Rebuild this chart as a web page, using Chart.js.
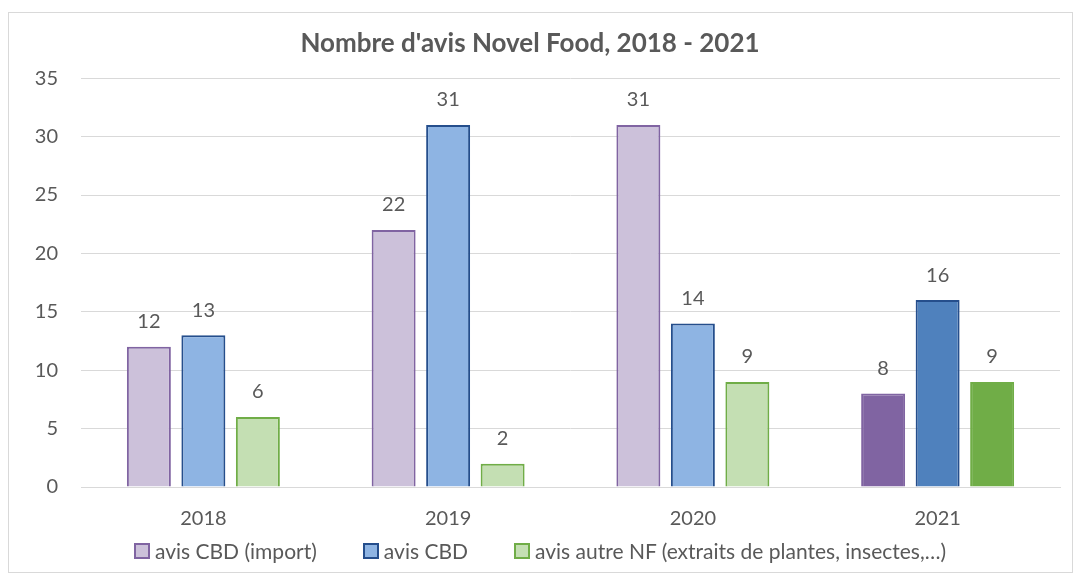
<!DOCTYPE html>
<html>
<head>
<meta charset="utf-8">
<script src="https://cdn.jsdelivr.net/npm/chart.js@4"></script>
<style>
  body { margin: 0; background: #fff; }
  #wrap { position: relative; width: 1080px; height: 580px; }
  #frame { position: absolute; left: 8px; top: 12px; width: 1063px; height: 559px; border: 1px solid #d9d9d9; pointer-events: none; }
  #legend { position: absolute; left: 0; top: 540px; width: 1080px; display: flex; justify-content: center;
            font: 21px Lato; line-height: 22px; color: #595959; }
  #legend span.item { display: flex; align-items: center; margin: 0 23px; white-space: nowrap; }
  #legend span.box { display: inline-block; width: 12px; height: 12px; border: 2px solid; margin-right: 5px; }
</style>
</head>
<body>
<div id="wrap">
  <canvas id="chart" width="1080" height="580"></canvas>
  <div id="legend"></div>
  <div id="frame"></div>
</div>
<script>
const years = ["2018", "2019", "2020", "2021"];
const cbdImport = [12, 22, 31, 8];
const cbd = [13, 31, 14, 16];
const autreNF = [6, 2, 9, 9];

const textColor = "#595959";
const font = "Lato";

// the 2021 bars use the darker shade
const shade = (light, dark) => years.map((y, i) => (i === years.length - 1 ? dark : light));

const barLabels = {
  id: "barLabels",
  afterDatasetsDraw(chart) {
    const ctx = chart.ctx;
    ctx.save();
    ctx.font = "20px " + font;
    ctx.fillStyle = textColor;
    ctx.textAlign = "center";
    ctx.textBaseline = "middle";
    chart.data.datasets.forEach((ds, di) => {
      chart.getDatasetMeta(di).data.forEach((bar, i) => {
        ctx.fillText(ds.data[i], bar.x, bar.y - 25);
      });
    });
    ctx.restore();
  },
};

// html legend built from the datasets
const htmlLegend = {
  id: "htmlLegend",
  afterUpdate(chart) {
    const target = document.getElementById("legend");
    target.innerHTML = "";
    for (const ds of chart.data.datasets) {
      target.innerHTML +=
        `<span class="item"><span class="box" style="background:${ds.backgroundColor[0]};border-color:${ds.borderColor}"></span>${ds.label}</span>`;
    }
  },
};

new Chart(document.getElementById("chart").getContext("2d"), {
  type: "bar",
  data: {
    labels: years,
    datasets: [
      {
        label: "avis CBD (import)",
        data: cbdImport,
        backgroundColor: shade("#ccc1da", "#8064a2"),
        borderColor: "#8064a2",
        borderWidth: 2,
      },
      {
        label: "avis CBD",
        data: cbd,
        backgroundColor: shade("#8eb4e3", "#4f81bd"),
        borderColor: "#254e8c",
        borderWidth: 2,
      },
      {
        label: "avis autre NF (extraits de plantes, insectes,…)",
        data: autreNF,
        backgroundColor: shade("#c4dfb3", "#70ad47"),
        borderColor: "#70ad47",
        borderWidth: 2,
      },
    ],
  },
  options: {
    animation: false,
    responsive: false,
    categoryPercentage: 0.668,
    barPercentage: 0.807,
    layout: { padding: { left: 0, right: 20, top: 28, bottom: 29 } },
    plugins: {
      title: {
        display: true,
        text: "Nombre d'avis Novel Food, 2018 - 2021",
        color: textColor,
        font: { family: font, size: 26, weight: "bold" },
        padding: { top: 0, bottom: 19 },
      },
      legend: { display: false },
      tooltip: { enabled: false },
    },
    scales: {
      x: {
        grid: { display: false, drawTicks: false },
        border: { color: "#d9d9d9", width: 1 },
        ticks: { padding: 20, color: textColor, font: { family: font, size: 20 } },
      },
      y: {
        min: 0,
        max: 35,
        ticks: { stepSize: 5, padding: 23, color: textColor, font: { family: font, size: 20 } },
        grid: { color: "#d9d9d9", drawTicks: false },
        border: { display: false },
        afterFit: (s) => { s.width = 81; },
      },
    },
  },
  plugins: [barLabels, htmlLegend],
});
</script>
</body>
</html>
